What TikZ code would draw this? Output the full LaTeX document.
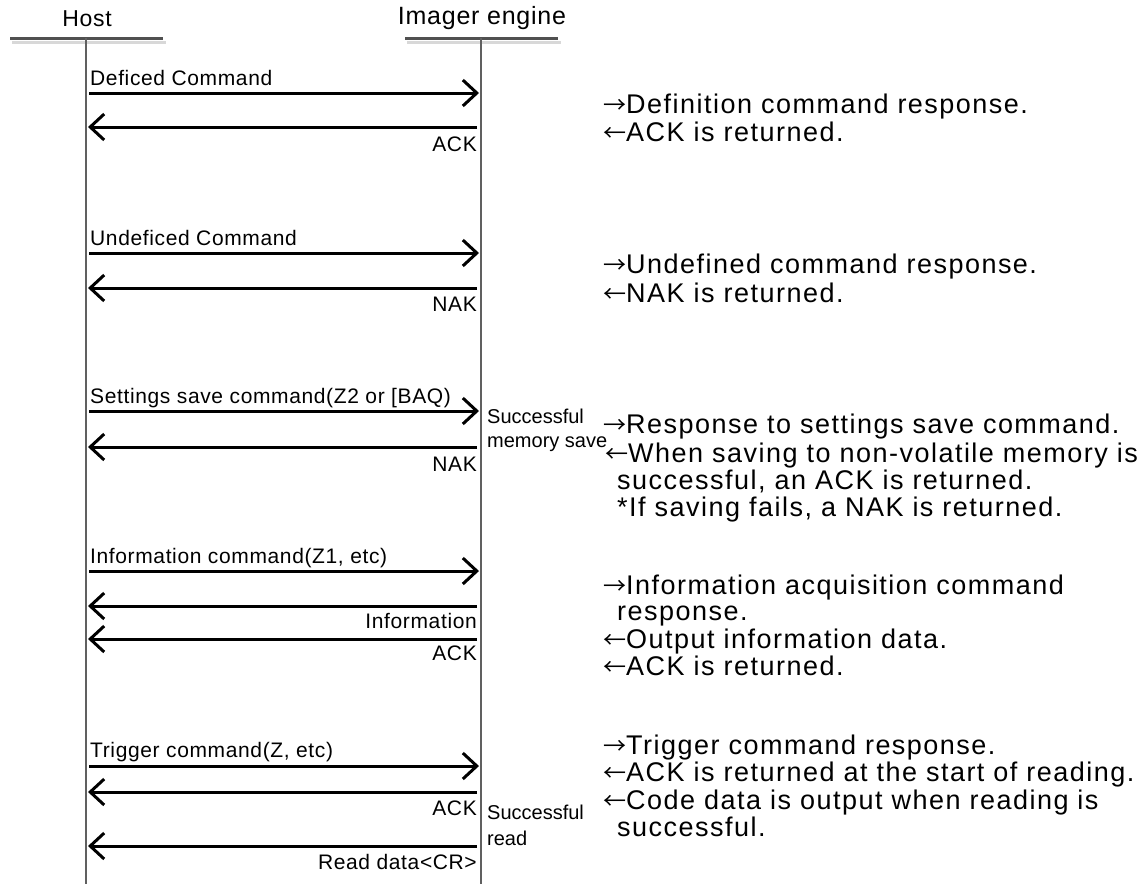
\documentclass[tikz,border=0pt]{standalone}
\usepackage{fontspec}
\setmainfont{Liberation Sans}
\newfontfamily\lblfont[LetterSpace=3]{Liberation Sans}
\newfontfamily\hdrfont[LetterSpace=3]{Liberation Sans}
\newfontfamily\notefont{Liberation Sans}
\newfontfamily\descfont[LetterSpace=5.5]{Liberation Sans}
\newfontfamily\arrfont{Noto Sans CJK JP}
\newcommand{\rarr}{{\arrfont\fontsize{23}{23}\selectfont →}}
\newcommand{\larr}{{\arrfont\fontsize{23}{23}\selectfont ←}}
\usetikzlibrary{arrows.meta}
\definecolor{lifegray}{HTML}{606060}
\definecolor{hdrgray}{HTML}{505050}
\definecolor{shadowgray}{HTML}{D8D8D8}
\tikzset{
  life/.style={draw=lifegray, line width=2.8pt},
  hdrline/.style={draw=hdrgray, line width=3pt},
  shadowline/.style={draw=shadowgray, line width=3pt},
  msg/.style={draw=black, line width=3pt, -{Straight Barb[length=14pt,width=26pt]}},
  hdrH/.style={inner sep=0pt, font=\hdrfont\fontsize{23}{26}\selectfont},
  hdrI/.style={inner sep=0pt, font=\hdrfont\fontsize{25}{28}\selectfont},
  lblR/.style={inner sep=0pt, anchor=base west, font=\lblfont\fontsize{21}{24}\selectfont},
  lblL/.style={inner sep=0pt, anchor=base east, font=\lblfont\fontsize{21}{24}\selectfont},
  note/.style={inner sep=0pt, anchor=base west, font=\notefont\fontsize{20}{23}\selectfont},
  desc/.style={inner sep=0pt, anchor=base west, font=\descfont\fontsize{27}{30}\selectfont},
}
\begin{document}
\begin{tikzpicture}[x=1pt,y=-1pt]
\useasboundingbox (0,0) rectangle (1147,884);

% headers
\node[hdrH] (hostLbl) at (87,19) {Host};
\node[hdrI] (imgLbl) at (482,18) {Imager engine};
\coordinate (hsA) at (12,42); \coordinate (hsB) at (166,42);
\coordinate (isA) at (407,42); \coordinate (isB) at (561,42);
\draw[shadowline] (hsA) -- (hsB);
\draw[shadowline] (isA) -- (isB);
\coordinate (hhA) at (10,38); \coordinate (hhB) at (163,38);
\coordinate (ihA) at (405,38); \coordinate (ihB) at (558,38);
\draw[hdrline] (hhA) -- (hhB);
\draw[hdrline] (ihA) -- (ihB);

% lifelines
\coordinate (hostTop) at (86,38); \coordinate (hostBot) at (86,884);
\coordinate (imgTop) at (481,38); \coordinate (imgBot) at (481,884);
\draw[life] (hostTop) -- (hostBot);
\draw[life] (imgTop) -- (imgBot);

% block 1
\coordinate (m1a) at (89,93);  \coordinate (m1b) at (479,93);
\draw[msg] (m1a) -- (m1b);
\node[lblR] (t1) at (90,85) {Deficed Command};
\coordinate (m2a) at (477,127); \coordinate (m2b) at (88,127);
\draw[msg] (m2a) -- (m2b);
\node[lblL] (t2) at (477,151) {ACK};

% block 2
\coordinate (m3a) at (89,253);  \coordinate (m3b) at (479,253);
\draw[msg] (m3a) -- (m3b);
\node[lblR] (t3) at (90,245) {Undeficed Command};
\coordinate (m4a) at (477,288); \coordinate (m4b) at (88,288);
\draw[msg] (m4a) -- (m4b);
\node[lblL] (t4) at (477,311) {NAK};

% block 3
\coordinate (m5a) at (89,411);  \coordinate (m5b) at (479,411);
\draw[msg] (m5a) -- (m5b);
\node[lblR] (t5) at (90,403) {Settings save command(Z2 or [BAQ)};
\coordinate (m6a) at (477,447); \coordinate (m6b) at (88,447);
\draw[msg] (m6a) -- (m6b);
\node[lblL] (t6) at (477,471) {NAK};
\node[note] (n1) at (487,423) {Successful};
\node[note] (n2) at (487,447) {memory save};

% block 4
\coordinate (m7a) at (89,571);  \coordinate (m7b) at (479,571);
\draw[msg] (m7a) -- (m7b);
\node[lblR] (t7) at (90,563) {Information command(Z1, etc)};
\coordinate (m8a) at (477,606); \coordinate (m8b) at (88,606);
\draw[msg] (m8a) -- (m8b);
\node[lblL] (t8) at (477,628) {Information};
\coordinate (m9a) at (477,639); \coordinate (m9b) at (88,639);
\draw[msg] (m9a) -- (m9b);
\node[lblL] (t9) at (477,660) {ACK};

% block 5
\coordinate (m10a) at (89,766);  \coordinate (m10b) at (479,766);
\draw[msg] (m10a) -- (m10b);
\node[lblR] (t10) at (90,757) {Trigger command(Z, etc)};
\coordinate (m11a) at (477,792); \coordinate (m11b) at (88,792);
\draw[msg] (m11a) -- (m11b);
\node[lblL] (t11) at (477,815) {ACK};
\node[note] (n3) at (487,819) {Successful};
\node[note] (n4) at (487,845) {read};
\coordinate (m12a) at (477,846); \coordinate (m12b) at (88,846);
\draw[msg] (m12a) -- (m12b);
\node[lblL] (t12) at (477,869) {Read data<CR>};

% descriptions
\node[desc] (d1) at (603,113) {\rarr Definition command response.};
\node[desc] (d2) at (603,141) {\larr ACK is returned.};
\node[desc] (d3) at (603,273) {\rarr Undefined command response.};
\node[desc] (d4) at (603,302) {\larr NAK is returned.};
\node[desc] (d5) at (603,433) {\rarr Response to settings save command.};
\node[desc] (d6) at (605,462) {\larr When saving to non-volatile memory is};
\node[desc] (d7) at (617,489) {successful, an ACK is returned.};
\node[desc] (d8) at (617,516) {*If saving fails, a NAK is returned.};
\node[desc] (d9) at (603,594) {\rarr Information acquisition command};
\node[desc] (d10) at (617,620.5) {response.};
\node[desc] (d11) at (603,648) {\larr Output information data.};
\node[desc] (d12) at (603,675) {\larr ACK is returned.};
\node[desc] (d13) at (603,754) {\rarr Trigger command response.};
\node[desc] (d14) at (603,781) {\larr ACK is returned at the start of reading.};
\node[desc] (d15) at (603,809) {\larr Code data is output when reading is};
\node[desc] (d16) at (617,836) {successful.};
\end{tikzpicture}
\end{document}
